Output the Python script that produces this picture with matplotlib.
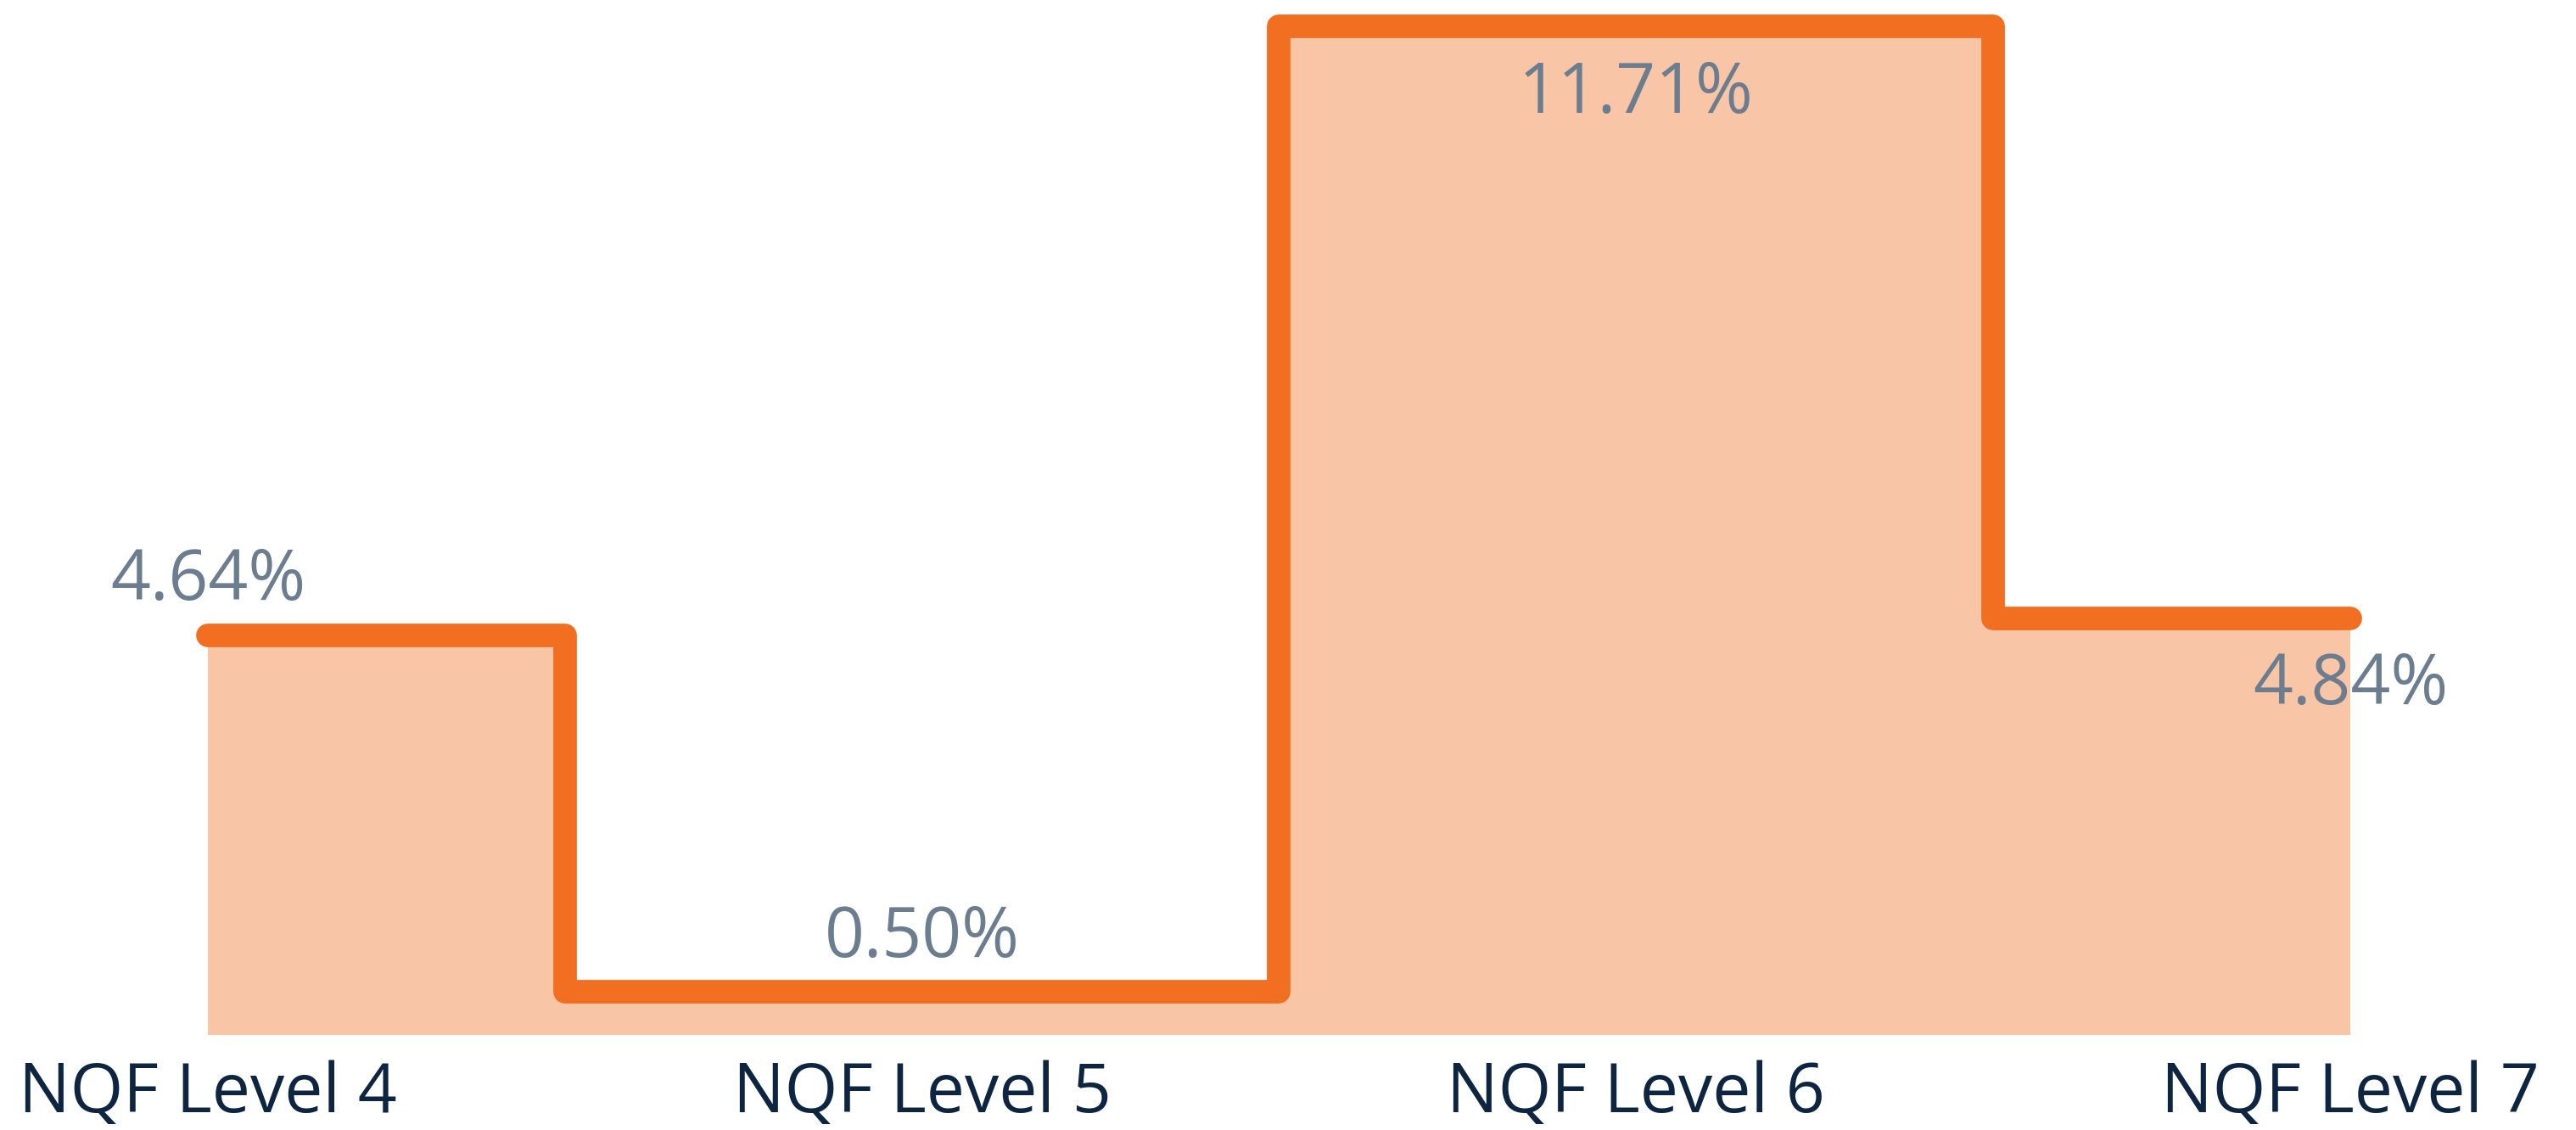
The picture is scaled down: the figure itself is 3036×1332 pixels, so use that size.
import matplotlib
matplotlib.use('Agg')
import matplotlib.pyplot as plt
import numpy as np

# Data
categories = ['NQF Level 4', 'NQF Level 5', 'NQF Level 6', 'NQF Level 7']
values = [4.64, 0.50, 11.71, 4.84]
value_labels = ['4.64%', '0.50%', '11.71%', '4.84%']
label_side = ['above', 'above', 'below', 'below']

line_color = '#F26F21'
fill_color = '#F8C5A7'
label_color = '#6B7D8E'
tick_color = '#0D2540'

plt.rcParams['font.family'] = ['Open Sans', 'DejaVu Sans']

fig = plt.figure(figsize=(30.36, 13.32), dpi=100)
ax = fig.add_axes([0, 0, 1, 1])

x = np.arange(len(categories))
ax.fill_between(x, values, 0, step='mid', color=fill_color, linewidth=0, zorder=1)
ax.step(x, values, where='mid', color=line_color, linewidth=20,
        solid_capstyle='round', solid_joinstyle='round', zorder=2)

# value labels
for xi, v, lab, side in zip(x, values, value_labels, label_side):
    off = 30 if side == 'above' else -73
    ax.annotate(lab, (xi, v), xytext=(0, off), textcoords='offset points',
                ha='center', va='baseline', fontsize=59, color=label_color, zorder=3)

# category labels
for xi, cat in zip(x, categories):
    ax.text(xi, -0.9, cat, ha='center', va='baseline', fontsize=58, color=tick_color)

ax.set_xlim(-0.291, 3.316)
ax.set_ylim(-1.103, 12.02)
ax.axis('off')

fig.savefig('out.png', dpi=100, facecolor='white')
